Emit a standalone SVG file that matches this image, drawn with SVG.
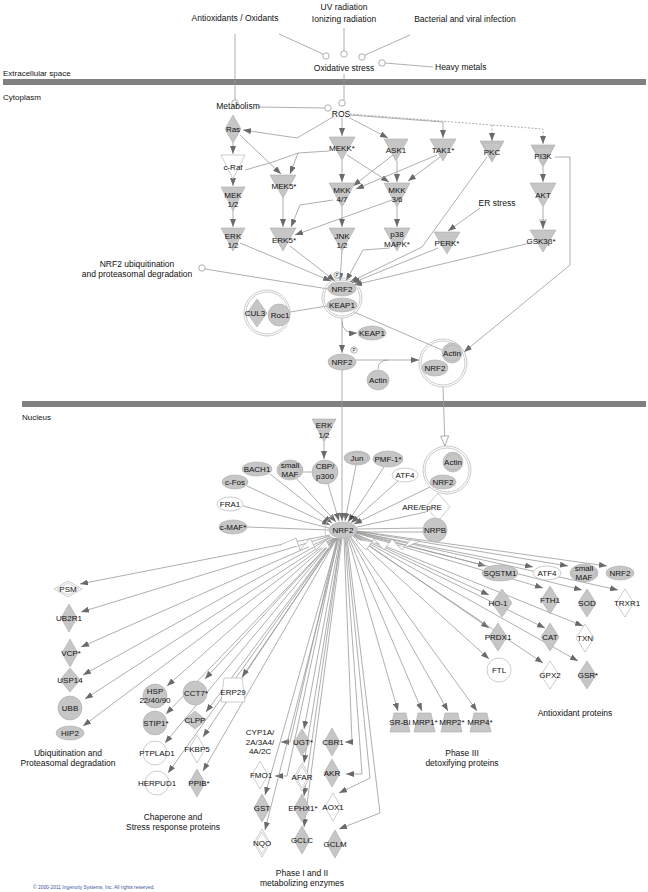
<svg xmlns="http://www.w3.org/2000/svg" width="648" height="892" viewBox="0 0 648 892">
<defs>
<style>
.l{fill:none;stroke:#9a9a9a;stroke-width:0.8}
.d{fill:none;stroke:#9a9a9a;stroke-width:0.8;stroke-dasharray:2,1.5}
.a{marker-end:url(#ah)}
.g{fill:#c6c6c6;stroke:#ababab;stroke-width:0.6}
.w{fill:#fff;stroke:#ababab;stroke-width:0.6}
.cx{fill:none;stroke:#bdbdbd;stroke-width:0.8}
.oc{fill:#fff;stroke:#9a9a9a;stroke-width:0.8}
.bar{fill:#808080}
text{font-family:"Liberation Sans",Arial,sans-serif;font-size:8px;fill:#111}
.m{text-anchor:middle}
.lb{font-size:8.5px}
.cp{font-size:4.9px;fill:#3a55a0}
</style>
<marker id="ah" viewBox="0 0 8 6" refX="8" refY="3" markerWidth="8" markerHeight="6" markerUnits="userSpaceOnUse" orient="auto"><path d="M0,0 L8,3 L0,6 z" fill="#6a6a6a"/></marker>
<marker id="ho" viewBox="0 0 12 10" refX="11" refY="5" markerWidth="12" markerHeight="10" markerUnits="userSpaceOnUse" orient="auto"><path d="M1,1 L11,5 L1,9 z" fill="#fff" stroke="#9a9a9a" stroke-width="0.8"/></marker>
</defs>
<rect width="648" height="892" fill="#fff"/>

<g id="compartments">
<text x="3" y="76">Extracellular space</text>
<rect class="bar" x="3" y="79" width="643" height="6"/>
<text x="3" y="100">Cytoplasm</text>
<rect class="bar" x="22" y="401" width="624" height="6"/>
<text x="22" y="420">Nucleus</text>
</g>

<g id="connectors">
<line class="l" x1="235" y1="34" x2="235" y2="100"/>
<line class="l" x1="279" y1="34" x2="323" y2="54"/>
<line class="l" x1="344" y1="28" x2="344" y2="51"/>
<line class="l" x1="410" y1="35" x2="365" y2="55"/>
<line class="l" x1="433" y1="67" x2="385" y2="63"/>
<line class="l" x1="344" y1="74" x2="344" y2="100"/>
<line class="l" x1="258" y1="107" x2="325" y2="108"/>
<polyline class="l a" points="333,117 297,138 243,130"/>
<line class="l a" x1="342" y1="118" x2="342" y2="136"/>
<line class="l a" x1="348" y1="117" x2="388" y2="138"/>
<polyline class="l a" points="350,115 443,122 443,138"/>
<polyline class="d a" points="350,114 543,129 543,144"/>
<polyline class="d a" points="492,125 492,141"/>
<line class="l a" x1="233" y1="143" x2="233" y2="154"/>
<line class="l a" x1="233" y1="179" x2="233" y2="186"/>
<line class="l a" x1="233" y1="210" x2="233" y2="227"/>
<line class="l a" x1="240" y1="135" x2="281" y2="174"/>
<polyline class="l" points="245,170 270,163 298,153"/>
<polyline class="l a" points="329,151 298,153 290,174"/>
<line class="l a" x1="283" y1="198" x2="283" y2="227"/>
<line class="l a" x1="342" y1="160" x2="342" y2="182"/>
<line class="l a" x1="347" y1="155" x2="389" y2="182"/>
<line class="l a" x1="397" y1="161" x2="397" y2="182"/>
<line class="l a" x1="393" y1="155" x2="353" y2="186"/>
<line class="l a" x1="437" y1="155" x2="356" y2="189"/>
<line class="l a" x1="440" y1="157" x2="408" y2="181"/>
<line class="l a" x1="342" y1="207" x2="342" y2="227"/>
<line class="l a" x1="397" y1="207" x2="397" y2="227"/>
<polyline class="l a" points="333,200 300,205 291,227"/>
<line class="l a" x1="392" y1="200" x2="295" y2="235"/>
<line class="l a" x1="543" y1="167" x2="543" y2="182"/>
<line class="l a" x1="543" y1="207" x2="543" y2="229"/>
<line class="l" x1="539" y1="220" x2="547" y2="220"/>
<line class="l a" x1="480" y1="208" x2="448" y2="231"/>
<polyline class="l a" points="555,157 570,157 570,265 464,352"/>
<line class="l a" x1="240" y1="243" x2="331" y2="281"/>
<line class="l a" x1="290" y1="246" x2="335" y2="281"/>
<line class="l a" x1="342" y1="251" x2="340" y2="281"/>
<polyline class="l a" points="390,248 363,250 346,281"/>
<polyline class="l a" points="487,157 422,247 350,282"/>
<line class="l a" x1="438" y1="248" x2="352" y2="283"/>
<line class="l a" x1="530" y1="243" x2="354" y2="285"/>
<line class="l" x1="205" y1="269" x2="328" y2="289"/>
<line class="l" x1="290" y1="312" x2="327" y2="306"/>
<path class="l a" d="M342,321 Q342,334 357,333"/>
<line class="l a" x1="342" y1="318" x2="342" y2="353"/>
<line class="l" x1="354" y1="312" x2="442" y2="350"/>
<line class="l a" x1="356" y1="360" x2="419" y2="360"/>
<path class="l" d="M378,369 Q378,360 388,360"/>
<line class="l" x1="443" y1="387" x2="445" y2="446" marker-end="url(#ho)"/>
<line class="l a" x1="342" y1="370" x2="342" y2="521"/>
<line class="l a" x1="324" y1="442" x2="324" y2="459"/>
<line class="l" x1="303" y1="472" x2="312" y2="472"/>
<line class="l a" x1="270" y1="474" x2="332" y2="523"/>
<line class="l a" x1="247" y1="486" x2="330" y2="525"/>
<line class="l" x1="243" y1="506" x2="329" y2="528"/>
<line class="l" x1="247" y1="527" x2="329" y2="530"/>
<line class="l a" x1="297" y1="479" x2="336" y2="522"/>
<line class="l a" x1="328" y1="484" x2="339" y2="521"/>
<line class="l a" x1="356" y1="465" x2="345" y2="521"/>
<line class="l a" x1="384" y1="467" x2="348" y2="522"/>
<line class="l a" x1="398" y1="481" x2="351" y2="523"/>
<line class="l a" x1="430" y1="487" x2="354" y2="524"/>
<line class="l" x1="426" y1="512" x2="357" y2="527"/>
<line class="l" x1="423" y1="528" x2="357" y2="529"/>
<line class="l" x1="423" y1="532" x2="357" y2="532"/>
<line class="l a" x1="330" y1="535" x2="80" y2="584"/>
<line class="l a" x1="330" y1="536" x2="81" y2="612"/>
<line class="l a" x1="331" y1="537" x2="81" y2="647"/>
<line class="l a" x1="332" y1="537" x2="83" y2="675"/>
<line class="l a" x1="333" y1="538" x2="85" y2="699"/>
<line class="l a" x1="334" y1="538" x2="83" y2="726"/>
<line class="l a" x1="334" y1="538" x2="167" y2="686"/>
<line class="l a" x1="335" y1="538" x2="166" y2="714"/>
<line class="l a" x1="335" y1="538" x2="165" y2="743"/>
<line class="l a" x1="336" y1="538" x2="168" y2="773"/>
<line class="l a" x1="335" y1="538" x2="205" y2="679"/>
<line class="l a" x1="336" y1="538" x2="206" y2="712"/>
<line class="l a" x1="336" y1="538" x2="203" y2="737"/>
<line class="l a" x1="337" y1="538" x2="203" y2="771"/>
<line class="l a" x1="337" y1="538" x2="242" y2="677"/>
<polyline class="l a" points="337,538 290,742 281,742"/>
<polyline class="l a" points="338,538 287,776 275,776"/>
<line class="l a" x1="338" y1="538" x2="265" y2="795"/>
<line class="l a" x1="339" y1="538" x2="265" y2="830"/>
<line class="l a" x1="340" y1="538" x2="304" y2="729"/>
<line class="l a" x1="341" y1="538" x2="304" y2="763"/>
<line class="l a" x1="341" y1="538" x2="304" y2="796"/>
<line class="l a" x1="342" y1="538" x2="304" y2="827"/>
<polyline class="l a" points="344,538 352,742 345,742"/>
<polyline class="l a" points="345,538 362,774 346,774"/>
<polyline class="l a" points="346,538 370,778 339,793"/>
<polyline class="l a" points="347,538 380,813 339,829"/>
<line class="l a" x1="348" y1="538" x2="398" y2="711"/>
<line class="l a" x1="349" y1="538" x2="422" y2="711"/>
<line class="l a" x1="350" y1="537" x2="448" y2="711"/>
<line class="l a" x1="351" y1="537" x2="477" y2="711"/>
<line class="l a" x1="356" y1="532" x2="486" y2="566"/>
<line class="l a" x1="356" y1="532" x2="533" y2="567"/>
<line class="l a" x1="356" y1="531" x2="568" y2="566"/>
<line class="l a" x1="357" y1="531" x2="607" y2="566"/>
<line class="l a" x1="355" y1="534" x2="489" y2="595"/>
<line class="l a" x1="356" y1="533" x2="543" y2="588"/>
<line class="l a" x1="356" y1="533" x2="582" y2="590"/>
<line class="l a" x1="357" y1="532" x2="618" y2="590"/>
<line class="l a" x1="354" y1="535" x2="489" y2="628"/>
<line class="l a" x1="355" y1="535" x2="545" y2="628"/>
<line class="l a" x1="355" y1="534" x2="583" y2="626"/>
<line class="l a" x1="353" y1="536" x2="489" y2="659"/>
<line class="l a" x1="354" y1="536" x2="543" y2="663"/>
<line class="l a" x1="354" y1="535" x2="578" y2="661"/>
<polyline fill="#fff" stroke="#9a9a9a" stroke-width="0.6" points="280,545 296,538 300,550 310,538 316,550 326,540 330,548"/>
<polyline fill="#fff" stroke="#9a9a9a" stroke-width="0.6" points="356,540 366,550 374,539 384,550 392,539 402,550 410,540 420,541 406,547"/>
</g>

<g id="antioxidants"><text class="m lb" x="235" y="21">Antioxidants / Oxidants</text></g>
<g id="uv"><text class="m lb" x="344" y="10">UV radiation</text><text class="m lb" x="344" y="22">Ionizing radiation</text></g>
<g id="infection"><text class="m lb" x="465" y="22">Bacterial and viral infection</text></g>
<g id="heavymetals"><text class="lb" x="435" y="70">Heavy metals</text></g>
<g id="oxstress">
<circle class="oc" cx="326" cy="56" r="3.2"/><circle class="oc" cx="344" cy="54" r="3.2"/><circle class="oc" cx="362" cy="57" r="3.2"/><circle class="oc" cx="382" cy="63" r="3.2"/>
<text class="m lb" x="344" y="71">Oxidative stress</text></g>
<g id="metabolism"><circle class="oc" cx="235" cy="103" r="3.2"/><text class="m lb" x="238" y="109">Metabolism</text></g>
<g id="ros"><circle class="oc" cx="342" cy="103" r="3.2"/><circle class="oc" cx="328" cy="108" r="3.2"/><rect x="333" y="110" width="17" height="8" fill="#fff" stroke="#ddd" stroke-width="0.5"/><text class="m lb" x="341" y="117">ROS</text></g>

<g id="ras"><polygon class="g" points="233,115 241,129 233,143 225,129"/><text class="m" x="233" y="132">Ras</text></g>
<g id="craf"><polygon class="w" points="221,155 245,155 233,179"/><text class="m" x="233" y="170">c-Raf</text></g>
<g id="mek12"><polygon class="g" points="221,187 245,187 233,211"/><text class="m" x="233" y="198">MEK</text><text class="m" x="233" y="207">1/2</text></g>
<g id="erk12"><polygon class="g" points="221,228 245,228 233,251"/><text class="m" x="233" y="239">ERK</text><text class="m" x="233" y="248">1/2</text></g>
<g id="mek5"><polygon class="g" points="270,175 296,175 283,198"/><text class="m" x="284" y="189">MEK5*</text></g>
<g id="erk5"><polygon class="g" points="270,228 296,228 283,251"/><text class="m" x="284" y="243">ERK5*</text></g>
<g id="mekk"><polygon class="g" points="329,137 355,137 342,160"/><text class="m" x="342" y="151">MEKK*</text></g>
<g id="ask1"><polygon class="g" points="384,139 408,139 396,161"/><text class="m" x="396" y="153">ASK1</text></g>
<g id="tak1"><polygon class="g" points="430,139 456,139 443,161"/><text class="m" x="443" y="153">TAK1*</text></g>
<g id="pkc"><polygon class="g" points="480,141 504,141 492,162"/><polygon fill="none" stroke="#ababab" stroke-width="0.5" points="482,143 502,143 492,159"/><text class="m" x="492" y="155">PKC</text></g>
<g id="pi3k"><polygon class="g" points="531,145 555,145 543,167"/><polygon fill="none" stroke="#ababab" stroke-width="0.5" points="533,147 553,147 543,164"/><text class="m" x="543" y="159">PI3K</text></g>
<g id="mkk47"><polygon class="g" points="329,183 355,183 342,207"/><text class="m" x="342" y="193">MKK</text><text class="m" x="342" y="202">4/7</text></g>
<g id="mkk36"><polygon class="g" points="384,183 410,183 397,207"/><text class="m" x="397" y="193">MKK</text><text class="m" x="397" y="202">3/6</text></g>
<g id="jnk"><polygon class="g" points="329,228 355,228 342,251"/><text class="m" x="342" y="239">JNK</text><text class="m" x="342" y="248">1/2</text></g>
<g id="p38"><polygon class="g" points="384,228 410,228 397,251"/><text class="m" x="397" y="237">p38</text><text class="m" x="397" y="247">MAPK*</text></g>
<g id="akt"><polygon class="g" points="530,183 556,183 543,207"/><text class="m" x="543" y="198">AKT</text></g>
<g id="gsk3b"><polygon class="g" points="530,230 556,230 543,252"/><text class="m" x="541" y="244">GSK3β*</text></g>
<g id="erstress"><text class="m lb" x="497" y="206">ER stress</text></g>
<g id="perk"><polygon class="g" points="434,232 460,232 447,254"/><text class="m" x="447" y="246">PERK*</text></g>
<g id="ubiqdeg"><circle class="oc" cx="202" cy="268" r="3.2"/><text class="m lb" x="137" y="267">NRF2 ubiquitination</text><text class="m lb" x="137" y="277">and proteasomal degradation</text></g>

<g id="nrf2keap1">
<circle class="cx" cx="342" cy="298" r="18"/><circle class="cx" cx="342" cy="298" r="20"/>
<ellipse class="g" cx="342" cy="289" rx="14" ry="7"/><text class="m" x="342" y="292">NRF2</text>
<ellipse class="g" cx="342" cy="305" rx="15" ry="7"/><text class="m" x="342" y="308">KEAP1</text>
<circle class="oc" cx="337" cy="275" r="3.2"/><text class="m" x="337" y="277" style="font-size:4.5px">P</text>
</g>
<g id="cul3roc1">
<circle class="cx" cx="267" cy="313" r="21"/><circle class="cx" cx="267" cy="313" r="23"/>
<polygon class="g" points="257,299 267,313 257,327 247,313"/>
<circle class="g" cx="279" cy="315" r="11"/>
<text class="m" x="255" y="316">CUL3</text><text class="m" x="280" y="318">Roc1</text>
</g>
<g id="keap1free"><ellipse class="g" cx="372" cy="333" rx="14" ry="7"/><text class="m" x="372" y="336">KEAP1</text></g>
<g id="nrf2p"><ellipse class="g" cx="342" cy="362" rx="14" ry="8"/><text class="m" x="342" y="365">NRF2</text><circle class="oc" cx="354" cy="350" r="3.2"/><text class="m" x="354" y="352" style="font-size:4.5px">P</text></g>
<g id="actinfree"><ellipse class="g" cx="378" cy="380" rx="11" ry="10"/><text class="m" x="378" y="383">Actin</text></g>
<g id="actinnrf2cyt">
<circle class="cx" cx="443" cy="363" r="22"/><circle class="cx" cx="443" cy="363" r="24"/>
<circle class="g" cx="452" cy="353" r="10"/><circle fill="none" stroke="#ababab" stroke-width="0.5" cx="452" cy="353" r="8"/>
<ellipse class="g" cx="435" cy="368" rx="13" ry="8"/>
<text class="m" x="452" y="356">Actin</text><text class="m" x="435" y="371">NRF2</text>
</g>

<g id="erk12n"><polygon class="g" points="312,419 336,419 324,442"/><text class="m" x="324" y="428">ERK</text><text class="m" x="324" y="438">1/2</text></g>
<g id="cbp"><ellipse class="g" cx="325" cy="472" rx="13" ry="12"/><text class="m" x="325" y="469">CBP/</text><text class="m" x="325" y="479">p300</text></g>
<g id="smallmafn"><ellipse class="g" cx="290" cy="470" rx="13" ry="10"/><ellipse fill="none" stroke="#ababab" stroke-width="0.5" cx="290" cy="470" rx="11" ry="8"/><text class="m" x="290" y="468">small</text><text class="m" x="290" y="477">MAF</text></g>
<g id="bach1"><ellipse class="g" cx="257" cy="469" rx="15" ry="7"/><text class="m" x="257" y="472">BACH1</text></g>
<g id="cfos"><ellipse class="g" cx="235" cy="482" rx="13" ry="7"/><text class="m" x="235" y="485">c-Fos</text></g>
<g id="fra1"><ellipse class="w" cx="230" cy="504" rx="13" ry="7"/><text class="m" x="230" y="507">FRA1</text></g>
<g id="cmaf"><ellipse class="g" cx="233" cy="527" rx="14" ry="7"/><text class="m" x="233" y="530">c-MAF*</text></g>
<g id="jun"><ellipse class="g" cx="357" cy="458" rx="13" ry="7"/><ellipse fill="none" stroke="#ababab" stroke-width="0.5" cx="357" cy="458" rx="11" ry="5.5"/><text class="m" x="357" y="461">Jun</text></g>
<g id="pmf1"><ellipse class="g" cx="388" cy="459" rx="15" ry="8"/><text class="m" x="388" y="462">PMF-1*</text></g>
<g id="atf4n"><ellipse class="w" cx="405" cy="475" rx="13" ry="7"/><text class="m" x="405" y="478">ATF4</text></g>
<g id="actinnrf2nuc">
<circle class="cx" cx="447" cy="470" r="22"/><circle class="cx" cx="447" cy="470" r="24"/>
<circle class="g" cx="453" cy="462" r="10"/><circle fill="none" stroke="#ababab" stroke-width="0.5" cx="453" cy="462" r="8"/>
<ellipse class="g" cx="443" cy="482" rx="13" ry="7"/>
<text class="m" x="453" y="465">Actin</text><text class="m" x="443" y="485">NRF2</text>
</g>
<g id="are"><polygon class="w" points="438,493 450,507 438,521 426,507"/><text class="m" x="422" y="510">ARE/EpRE</text></g>
<g id="nrpb"><circle class="g" cx="435" cy="530" r="12"/><text class="m" x="435" y="533">NRPB</text></g>
<g id="nrf2hub">
<path d="M334,515 A17,17 0 0 0 334,545" fill="none" stroke="#bdbdbd" stroke-width="0.8"/>
<ellipse class="g" cx="343" cy="530" rx="14" ry="8"/><text class="m" x="343" y="533">NRF2</text>
<text class="m" x="352" y="520" style="font-size:6px">P</text>
</g>

<g id="psm"><polygon class="w" points="68,581 82,589 68,597 54,589"/><polygon fill="none" stroke="#ababab" stroke-width="0.5" points="68,583 79,589 68,595 57,589"/><text class="m" x="68" y="592">PSM</text></g>
<g id="ub2r1"><polygon class="g" points="69,604 77,618 69,632 61,618"/><text class="m" x="69" y="621">UB2R1</text></g>
<g id="vcp"><polygon class="g" points="70,639 78,653 70,667 62,653"/><text class="m" x="71" y="656">VCP*</text></g>
<g id="usp14"><polygon class="g" points="70,668 80,680 70,692 60,680"/><text class="m" x="70" y="683">USP14</text></g>
<g id="ubb"><circle class="g" cx="70" cy="708" r="12"/><text class="m" x="70" y="711">UBB</text></g>
<g id="hip2"><ellipse class="g" cx="70" cy="733" rx="14" ry="7"/><text class="m" x="70" y="736">HIP2</text></g>
<g id="lbl_ubiq"><text class="m lb" x="68" y="756">Ubiquitination and</text><text class="m lb" x="68" y="766">Proteasomal degradation</text></g>

<g id="hsp"><circle class="g" cx="155" cy="696" r="12"/><text class="m" x="155" y="694">HSP</text><text class="m" x="155" y="703">22/40/90</text></g>
<g id="stip1"><circle class="g" cx="155" cy="723" r="12"/><text class="m" x="156" y="726">STIP1*</text></g>
<g id="ptplad1"><circle class="w" cx="155" cy="753" r="12"/><text class="m" x="157" y="756">PTPLAD1</text></g>
<g id="herpud1"><circle class="w" cx="157" cy="783" r="12"/><text class="m" x="157" y="786">HERPUD1</text></g>
<g id="cct7"><circle class="g" cx="195" cy="693" r="12"/><text class="m" x="196" y="696">CCT7*</text></g>
<g id="clpp"><polygon class="g" points="195,711 206,720 195,729 184,720"/><text class="m" x="195" y="723">CLPP</text></g>
<g id="fkbp5"><polygon class="w" points="197,735 205,749 197,763 189,749"/><text class="m" x="197" y="752">FKBP5</text></g>
<g id="ppib"><polygon class="g" points="197,769 205,783 197,797 189,783"/><text class="m" x="199" y="786">PPIB*</text></g>
<g id="erp29"><polygon class="w" points="224,678 242,678 245,702 221,702"/><text class="m" x="233" y="695">ERP29</text></g>
<g id="lbl_chap"><text class="m lb" x="173" y="820">Chaperone and</text><text class="m lb" x="173" y="830">Stress response proteins</text></g>

<g id="cyp"><text class="m" x="260" y="735">CYP1A/</text><text class="m" x="260" y="745">2A/3A4/</text><text class="m" x="260" y="754">4A/2C</text></g>
<g id="ugt"><polygon class="g" points="302,729 310,742 302,756 294,742"/><text class="m" x="303" y="745">UGT*</text></g>
<g id="fmo1"><polygon class="w" points="260,761 268,775 260,789 252,775"/><text class="m" x="261" y="778">FMO1</text></g>
<g id="afar"><polygon class="w" points="302,763 310,777 302,791 294,777"/><polygon fill="none" stroke="#ababab" stroke-width="0.5" points="302,766 308,777 302,788 296,777"/><text class="m" x="302" y="780">AFAR</text></g>
<g id="gst"><polygon class="g" points="262,794 270,808 262,822 254,808"/><text class="m" x="262" y="811">GST</text></g>
<g id="ephx1"><polygon class="g" points="302,794 310,808 302,822 294,808"/><text class="m" x="303" y="811">EPHX1*</text></g>
<g id="nqo"><polygon class="w" points="262,829 270,843 262,857 254,843"/><polygon fill="none" stroke="#ababab" stroke-width="0.5" points="262,832 268,843 262,854 256,843"/><text class="m" x="262" y="846">NQO</text></g>
<g id="gclc"><polygon class="g" points="302,826 310,840 302,854 294,840"/><text class="m" x="302" y="843">GCLC</text></g>
<g id="cbr1"><polygon class="g" points="332,728 340,742 332,756 324,742"/><text class="m" x="333" y="745">CBR1</text></g>
<g id="akr"><polygon class="g" points="332,759 340,773 332,787 324,773"/><text class="m" x="332" y="776">AKR</text></g>
<g id="aox1"><polygon class="w" points="333,793 341,807 333,821 325,807"/><text class="m" x="333" y="810">AOX1</text></g>
<g id="gclm"><polygon class="g" points="335,830 343,844 335,858 327,844"/><text class="m" x="335" y="847">GCLM</text></g>
<g id="lbl_phase12"><text class="m lb" x="302" y="876">Phase I and II</text><text class="m lb" x="302" y="886">metabolizing enzymes</text></g>

<g id="srbi"><polygon class="g" points="394,713 406,713 410,732 390,732"/><text class="m" x="400" y="725">SR-BI</text></g>
<g id="mrp1"><polygon class="g" points="418,713 431,713 435,732 414,732"/><text class="m" x="425" y="725">MRP1*</text></g>
<g id="mrp2"><polygon class="g" points="445,713 458,713 462,732 441,732"/><text class="m" x="452" y="725">MRP2*</text></g>
<g id="mrp4"><polygon class="g" points="474,713 487,713 491,732 470,732"/><text class="m" x="480" y="725">MRP4*</text></g>
<g id="lbl_phase3"><text class="m lb" x="462" y="756">Phase III</text><text class="m lb" x="462" y="766">detoxifying proteins</text></g>

<g id="sqstm1"><ellipse class="g" cx="500" cy="573" rx="18" ry="8"/><text class="m" x="500" y="576">SQSTM1</text></g>
<g id="atf4"><ellipse class="w" cx="547" cy="573" rx="14" ry="7"/><text class="m" x="547" y="576">ATF4</text></g>
<g id="smallmaf"><ellipse class="g" cx="584" cy="573" rx="14" ry="9"/><ellipse fill="none" stroke="#ababab" stroke-width="0.5" cx="584" cy="573" rx="12" ry="7"/><text class="m" x="584" y="571">small</text><text class="m" x="584" y="580">MAF</text></g>
<g id="nrf2r"><ellipse class="g" cx="620" cy="573" rx="14" ry="7"/><text class="m" x="620" y="576">NRF2</text></g>
<g id="ho1"><polygon class="g" points="502,589 512,603 502,617 492,603"/><text class="m" x="498" y="606">HO-1</text></g>
<g id="fth1"><polygon class="g" points="550,586 559,600 550,614 541,600"/><text class="m" x="550" y="603">FTH1</text></g>
<g id="sod"><polygon class="g" points="587,589 596,603 587,617 578,603"/><text class="m" x="587" y="606">SOD</text></g>
<g id="trxr1"><polygon class="w" points="625,589 634,603 625,617 616,603"/><text class="m" x="627" y="606">TRXR1</text></g>
<g id="prdx1"><polygon class="g" points="498,623 507,637 498,651 489,637"/><text class="m" x="498" y="640">PRDX1</text></g>
<g id="cat"><polygon class="g" points="550,623 559,637 550,651 541,637"/><text class="m" x="550" y="640">CAT</text></g>
<g id="txn"><polygon class="w" points="585,624 594,638 585,652 576,638"/><text class="m" x="585" y="641">TXN</text></g>
<g id="ftl"><circle class="w" cx="499" cy="670" r="12"/><text class="m" x="499" y="673">FTL</text></g>
<g id="gpx2"><polygon class="w" points="550,661 559,675 550,689 541,675"/><text class="m" x="550" y="678">GPX2</text></g>
<g id="gsr"><polygon class="g" points="587,661 596,675 587,689 578,675"/><text class="m" x="588" y="678">GSR*</text></g>
<g id="lbl_antiox"><text class="m lb" x="575" y="716">Antioxidant proteins</text></g>

<g id="copyright"><text class="cp" x="33" y="889">© 2000-2011 Ingenuity Systems, Inc. All rights reserved.</text></g>
</svg>
